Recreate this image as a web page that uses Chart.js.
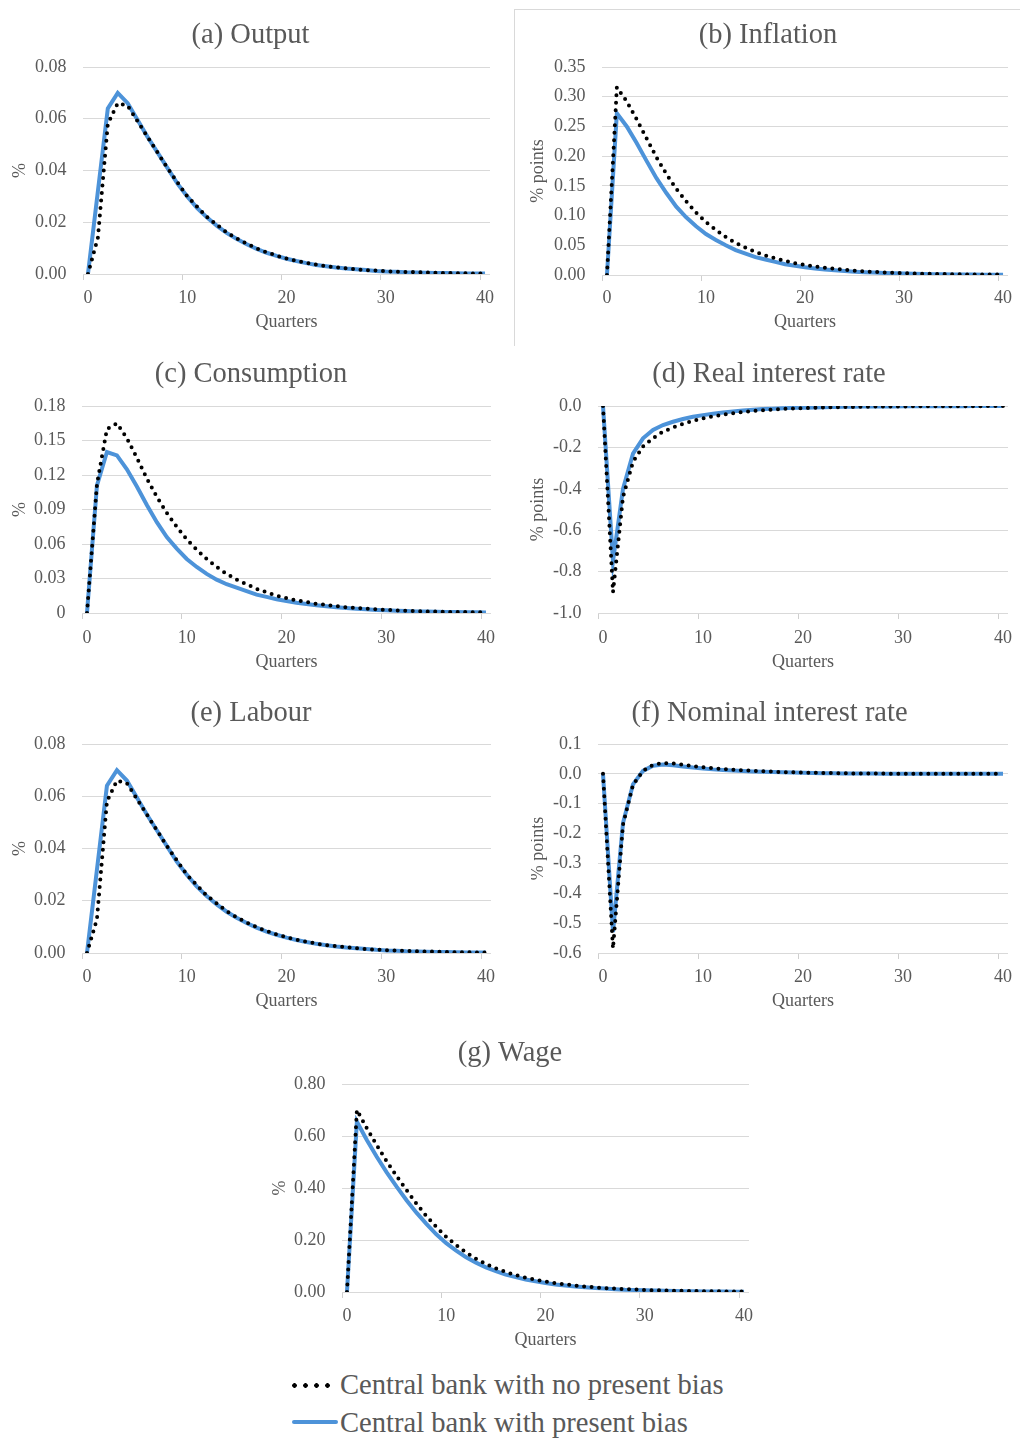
<!DOCTYPE html>
<html>
<head>
<meta charset="utf-8">
<title>Impulse responses: central bank with and without present bias</title>
<script src="https://cdn.jsdelivr.net/npm/chart.js@4.4.1/dist/chart.umd.min.js"></script>
<style>
  html, body { margin: 0; padding: 0; background: #fff; }
  body { width: 1020px; height: 1439px; position: relative; overflow: hidden;
         font-family: 'Liberation Serif', 'Times New Roman', serif; color: #595959; }
  .panel { position: absolute; }
  .panel canvas { display: block; }
  .frame { position: absolute; left: 514px; top: 9px; width: 520px; height: 336px;
           border-top: 1px solid #d9d9d9; border-left: 1px solid #d9d9d9; }
  .lg-text { position: absolute; left: 340px; font-size: 28.6px; line-height: 34px;
             color: #595959; white-space: nowrap; }
  .lg-dots { position: absolute; left: 289px; top: 1382.5px; width: 44px; height: 5px;
             background: radial-gradient(circle at center, #000 0, #000 2px, rgba(0,0,0,0) 2.6px) 0 0 / 11px 5px repeat-x; }
  .lg-bar { position: absolute; left: 292px; top: 1420px; width: 46px; height: 4px;
            background: #4d93d9; border-radius: 2px; }
</style>
</head>
<body>
<div class="frame"></div>

<div class="lg-dots"></div>
<div class="lg-text" style="top:1367.5px">Central bank with no present bias</div>
<div class="lg-bar"></div>
<div class="lg-text" style="top:1406px">Central bank with present bias</div>

<script>
// Horizon in quarters after the shock
const quarters = Array.from({ length: 41 }, (_, i) => String(i));
const quarterTicks = ['0', '10', '20', '30', '40'];

const seriesNames = ['Central bank with no present bias', 'Central bank with present bias'];

// (a) Output, % deviation
const outputNoBias = [0, 0.014, 0.058, 0.066, 0.065, 0.059, 0.053, 0.047, 0.041, 0.0355, 0.030,
  0.026, 0.022, 0.019, 0.016, 0.0137, 0.0117, 0.0099, 0.0084, 0.0071, 0.006,
  0.0051, 0.0043, 0.0036, 0.003, 0.0026, 0.0022, 0.0018, 0.0015, 0.0013, 0.0011,
  0.0009, 0.0008, 0.0007, 0.0006, 0.0005, 0.0004, 0.0003, 0.0003, 0.0002, 0.0002];
const outputBias = [0, 0.032, 0.064, 0.070, 0.066, 0.0595, 0.053, 0.047, 0.041, 0.035, 0.030,
  0.0255, 0.0218, 0.0186, 0.0158, 0.0135, 0.0115, 0.0097, 0.0082, 0.007, 0.0059,
  0.005, 0.0042, 0.0035, 0.003, 0.0025, 0.0021, 0.0018, 0.0015, 0.0012, 0.001,
  0.0009, 0.0007, 0.0006, 0.0005, 0.0004, 0.0004, 0.0003, 0.0002, 0.0002, 0.0002];
const outputTicks = ['0.00', '0.02', '0.04', '0.06', '0.08'];

// (b) Inflation, % points
const inflNoBias = [0, 0.316, 0.292, 0.262, 0.230, 0.198, 0.170, 0.145, 0.124, 0.105, 0.089,
  0.076, 0.064, 0.054, 0.046, 0.039, 0.033, 0.028, 0.024, 0.020, 0.017,
  0.0145, 0.0122, 0.0103, 0.0087, 0.0073, 0.0062, 0.0052, 0.0044, 0.0037, 0.0031,
  0.0026, 0.0022, 0.0019, 0.0016, 0.0013, 0.0011, 0.0009, 0.0008, 0.0007, 0.0006];
const inflBias = [0, 0.272, 0.250, 0.222, 0.192, 0.163, 0.138, 0.115, 0.097, 0.082, 0.069,
  0.059, 0.050, 0.042, 0.036, 0.030, 0.026, 0.022, 0.018, 0.0155, 0.013,
  0.011, 0.0093, 0.0079, 0.0066, 0.0056, 0.0047, 0.004, 0.0034, 0.0028, 0.0024,
  0.002, 0.0017, 0.0014, 0.0012, 0.001, 0.0009, 0.0007, 0.0006, 0.0005, 0.0004];
const inflTicks = ['0.00', '0.05', '0.10', '0.15', '0.20', '0.25', '0.30', '0.35'];

// (c) Consumption, % deviation
const consNoBias = [0, 0.112, 0.160, 0.165, 0.152, 0.135, 0.117, 0.101, 0.087, 0.075, 0.064,
  0.055, 0.047, 0.040, 0.034, 0.029, 0.025, 0.021, 0.018, 0.015, 0.013,
  0.011, 0.0095, 0.008, 0.007, 0.006, 0.005, 0.0043, 0.0037, 0.0032, 0.0027,
  0.0023, 0.002, 0.0017, 0.0014, 0.0012, 0.001, 0.0009, 0.0008, 0.0007, 0.0006];
const consBias = [0, 0.111, 0.140, 0.137, 0.125, 0.110, 0.094, 0.079, 0.066, 0.056, 0.047,
  0.040, 0.034, 0.029, 0.025, 0.022, 0.019, 0.016, 0.014, 0.012, 0.0105,
  0.009, 0.0078, 0.0067, 0.0058, 0.005, 0.0043, 0.0037, 0.0032, 0.0027, 0.0023,
  0.002, 0.0017, 0.0014, 0.0012, 0.001, 0.0009, 0.0008, 0.0007, 0.0006, 0.0005];
const consTicks = ['0', '0.03', '0.06', '0.09', '0.12', '0.15', '0.18'];

// (d) Real interest rate, % points
const realNoBias = [0, -0.90, -0.44, -0.27, -0.196, -0.156, -0.124, -0.104, -0.086, -0.072, -0.060,
  -0.050, -0.042, -0.035, -0.029, -0.024, -0.020, -0.017, -0.014, -0.012, -0.010,
  -0.0085, -0.007, -0.006, -0.005, -0.0043, -0.0037, -0.003, -0.0026, -0.0022, -0.0019,
  -0.0016, -0.0014, -0.0012, -0.001, -0.0009, -0.0008, -0.0007, -0.0006, -0.0005, -0.0005];
const realBias = [0, -0.75, -0.40, -0.23, -0.156, -0.116, -0.092, -0.076, -0.063, -0.052, -0.044,
  -0.037, -0.031, -0.026, -0.022, -0.018, -0.015, -0.013, -0.011, -0.009, -0.008,
  -0.0068, -0.0058, -0.0049, -0.0042, -0.0036, -0.003, -0.0026, -0.0022, -0.0019, -0.0016,
  -0.0014, -0.0012, -0.001, -0.0009, -0.0008, -0.0007, -0.0006, -0.0005, -0.0004, -0.0004];
const realTicks = ['-1.0', '-0.8', '-0.6', '-0.4', '-0.2', '0.0'];

// (e) Labour, % deviation
const labourNoBias = [0, 0.013, 0.058, 0.066, 0.065, 0.059, 0.053, 0.047, 0.041, 0.0355, 0.030,
  0.026, 0.022, 0.019, 0.016, 0.0137, 0.0117, 0.0099, 0.0084, 0.0071, 0.006,
  0.0051, 0.0043, 0.0036, 0.003, 0.0026, 0.0022, 0.0018, 0.0015, 0.0013, 0.0011,
  0.0009, 0.0008, 0.0007, 0.0006, 0.0005, 0.0004, 0.0003, 0.0003, 0.0002, 0.0002];
const labourBias = [0, 0.032, 0.064, 0.070, 0.066, 0.0595, 0.053, 0.047, 0.041, 0.035, 0.030,
  0.0255, 0.0218, 0.0186, 0.0158, 0.0135, 0.0115, 0.0097, 0.0082, 0.007, 0.0059,
  0.005, 0.0042, 0.0035, 0.003, 0.0025, 0.0021, 0.0018, 0.0015, 0.0012, 0.001,
  0.0009, 0.0007, 0.0006, 0.0005, 0.0004, 0.0004, 0.0003, 0.0002, 0.0002, 0.0002];
const labourTicks = ['0.00', '0.02', '0.04', '0.06', '0.08'];

// (f) Nominal interest rate, % points
const nomNoBias = [0, -0.585, -0.17, -0.037, 0.010, 0.030, 0.036, 0.035, 0.031, 0.026, 0.022,
  0.019, 0.016, 0.014, 0.012, 0.010, 0.0085, 0.0072, 0.006, 0.005, 0.0042,
  0.0035, 0.0029, 0.0024, 0.002, 0.0016, 0.0013, 0.0011, 0.0009, 0.0007, 0.0006,
  0.0005, 0.0004, 0.0003, 0.0003, 0.0002, 0.0002, 0.0001, 0.0001, 0.0001, 0.0001];
const nomBias = [0, -0.53, -0.165, -0.035, 0.010, 0.027, 0.031, 0.029, 0.025, 0.021, 0.018,
  0.015, 0.013, 0.011, 0.0095, 0.008, 0.007, 0.006, 0.005, 0.0042, 0.0035,
  0.0029, 0.0024, 0.002, 0.0016, 0.0013, 0.0011, 0.0009, 0.0007, 0.0006, 0.0005,
  0.0004, 0.0003, 0.0003, 0.0002, 0.0002, 0.0001, 0.0001, 0.0001, 0.0001, 0.0001];
const nomTicks = ['-0.6', '-0.5', '-0.4', '-0.3', '-0.2', '-0.1', '0.0', '0.1'];

// (g) Wage, % deviation
const wageNoBias = [0, 0.70, 0.63, 0.565, 0.503, 0.446, 0.392, 0.340, 0.292, 0.250, 0.212,
  0.180, 0.152, 0.128, 0.108, 0.091, 0.077, 0.065, 0.055, 0.047, 0.040,
  0.034, 0.029, 0.025, 0.021, 0.018, 0.015, 0.013, 0.011, 0.0095, 0.008,
  0.0068, 0.0058, 0.005, 0.0043, 0.0037, 0.0032, 0.0027, 0.0023, 0.002, 0.0017];
const wageBias = [0, 0.655, 0.585, 0.52, 0.46, 0.405, 0.353, 0.305, 0.262, 0.222, 0.188,
  0.159, 0.134, 0.113, 0.095, 0.080, 0.067, 0.057, 0.048, 0.041, 0.035,
  0.029, 0.025, 0.021, 0.018, 0.015, 0.013, 0.011, 0.009, 0.008, 0.0065,
  0.0055, 0.0046, 0.0039, 0.0033, 0.0028, 0.0023, 0.002, 0.0017, 0.0014, 0.0012];
const wageTicks = ['0.00', '0.20', '0.40', '0.60', '0.80'];

// Panel contents
const panels = [
  { title: '(a) Output', yTitle: '%', noBias: outputNoBias, bias: outputBias, ticks: outputTicks, min: 0, max: 0.08, step: 0.02,
    box: { l: 83, r: 490, t: 67, b: 274, titleX: 250.5, titleY: 36, yTitleX: 20, xLabelY: 298.5, xTitleY: 322.5 } },
  { title: '(b) Inflation', yTitle: '% points', noBias: inflNoBias, bias: inflBias, ticks: inflTicks, min: 0, max: 0.35, step: 0.05,
    box: { l: 602, r: 1008, t: 67, b: 275, titleX: 768, titleY: 36, yTitleX: 538, xLabelY: 298.5, xTitleY: 322.5 } },
  { title: '(c) Consumption', yTitle: '%', noBias: consNoBias, bias: consBias, ticks: consTicks, min: 0, max: 0.18, step: 0.03,
    box: { l: 82, r: 491, t: 406, b: 613, titleX: 251, titleY: 374.5, yTitleX: 20, xLabelY: 638, xTitleY: 662 } },
  { title: '(d) Real interest rate', yTitle: '% points', noBias: realNoBias, bias: realBias, ticks: realTicks, min: -1.0, max: 0, step: 0.2,
    box: { l: 598, r: 1008, t: 406, b: 613, titleX: 769, titleY: 374.5, yTitleX: 538, xLabelY: 638, xTitleY: 662 } },
  { title: '(e) Labour', yTitle: '%', noBias: labourNoBias, bias: labourBias, ticks: labourTicks, min: 0, max: 0.08, step: 0.02,
    box: { l: 82, r: 491, t: 744, b: 953, titleX: 251, titleY: 714, yTitleX: 20, xLabelY: 977.5, xTitleY: 1001 } },
  { title: '(f) Nominal interest rate', yTitle: '% points', noBias: nomNoBias, bias: nomBias, ticks: nomTicks, min: -0.6, max: 0.1, step: 0.1,
    box: { l: 598, r: 1008, t: 744, b: 953, titleX: 769.5, titleY: 714, yTitleX: 538, xLabelY: 977.5, xTitleY: 1001 } },
  { title: '(g) Wage', yTitle: '%', noBias: wageNoBias, bias: wageBias, ticks: wageTicks, min: 0, max: 0.8, step: 0.2,
    box: { l: 342, r: 749, t: 1084, b: 1292, titleX: 510, titleY: 1054, yTitleX: 280, xLabelY: 1316.5, xTitleY: 1340.5 } }
];

const TEXT = '#595959';
const GRID = '#d9d9d9';
const BLUE = '#4d93d9';
const FONT = "'Liberation Serif', 'Times New Roman', serif";

Chart.defaults.font.family = FONT;
Chart.defaults.color = TEXT;

const TITLE_SIZE = 28.5, TITLE_LH = 1.2;
const TICK_SIZE = 18, TICK_LH = 1.2;
const TOP_SPACE = 70, X_AXIS_H = 60, RIGHT_PAD = 14, TICK_LEN = 6;

function drawPanel(p) {
  const g = p.box;
  const left = Math.round(2 * g.titleX - g.r);
  const top = g.t - TOP_SPACE;
  const width = g.r - left + RIGHT_PAD;
  const height = TOP_SPACE + (g.b - g.t) + X_AXIS_H;

  const wrap = document.createElement('div');
  wrap.className = 'panel';
  wrap.style.left = left + 'px';
  wrap.style.top = top + 'px';
  const cv = document.createElement('canvas');
  cv.width = width; cv.height = height;
  cv.style.width = width + 'px'; cv.style.height = height + 'px';
  wrap.appendChild(cv);
  document.body.appendChild(wrap);

  const titleLine = TITLE_SIZE * TITLE_LH;
  const titlePadTop = g.titleY - top - titleLine / 2;
  const titlePadBottom = TOP_SPACE - titlePadTop - titleLine;
  const yAxisWidth = g.l - left;
  const yTitlePad = g.yTitleX - left - TICK_SIZE / 2;
  const xTickPad = g.xLabelY - g.b - TICK_LEN - (TICK_SIZE * TICK_LH) / 2;
  const xTitlePad = g.b + X_AXIS_H - (TICK_SIZE * TICK_LH) / 2 - g.xTitleY;

  new Chart(cv, {
    type: 'line',
    data: {
      labels: quarters,
      datasets: [
        { label: seriesNames[0], data: p.noBias, borderColor: '#000000', borderWidth: 4,
          borderDash: [0, 7.5], borderCapStyle: 'round', pointRadius: 0, tension: 0, fill: false },
        { label: seriesNames[1], data: p.bias, borderColor: BLUE, borderWidth: 4,
          pointRadius: 0, tension: 0, fill: false }
      ]
    },
    options: {
      responsive: false,
      animation: false,
      events: [],
      layout: { padding: { left: 0, top: 0, right: RIGHT_PAD, bottom: 0 } },
      plugins: {
        legend: { display: false },
        tooltip: { enabled: false },
        title: {
          display: true, text: p.title, color: TEXT,
          font: { size: TITLE_SIZE, weight: 'normal', lineHeight: TITLE_LH },
          padding: { top: titlePadTop, bottom: titlePadBottom }
        }
      },
      scales: {
        x: {
          type: 'category',
          offset: true,
          border: { display: false },
          grid: {
            offset: true, drawOnChartArea: false, drawTicks: true, tickLength: TICK_LEN,
            color: (ctx) => (ctx.index !== undefined && ctx.index % 10 === 0) ? '#cfcfcf' : 'rgba(0,0,0,0)'
          },
          ticks: {
            autoSkip: false, maxRotation: 0, minRotation: 0, padding: xTickPad, color: TEXT,
            font: { size: TICK_SIZE, lineHeight: TICK_LH },
            callback: function (value) {
              const lab = this.getLabelForValue(value);
              return quarterTicks.includes(lab) ? lab : '';
            }
          },
          title: {
            display: true, text: 'Quarters', color: TEXT,
            font: { size: TICK_SIZE, lineHeight: TICK_LH },
            padding: { top: 0, bottom: xTitlePad }
          },
          afterFit: (s) => { s.height = X_AXIS_H; s.paddingLeft = 0; s.paddingRight = 0; }
        },
        y: {
          type: 'linear',
          min: p.min, max: p.max,
          border: { display: false },
          grid: { color: GRID, lineWidth: 1, drawTicks: false },
          ticks: {
            stepSize: p.step, padding: 16.5, color: TEXT,
            font: { size: TICK_SIZE, lineHeight: TICK_LH },
            callback: (v) => {
              const i = Math.round((v - p.min) / p.step);
              return p.ticks[i] !== undefined ? p.ticks[i] : '';
            }
          },
          title: {
            display: true, text: p.yTitle, color: TEXT,
            font: { size: TICK_SIZE, lineHeight: 1 },
            padding: { top: yTitlePad, bottom: 0 }
          },
          afterFit: (s) => { s.width = yAxisWidth; s.paddingTop = 0; s.paddingBottom = 0; }
        }
      }
    }
  });
}

panels.forEach(drawPanel);
</script>
</body>
</html>
